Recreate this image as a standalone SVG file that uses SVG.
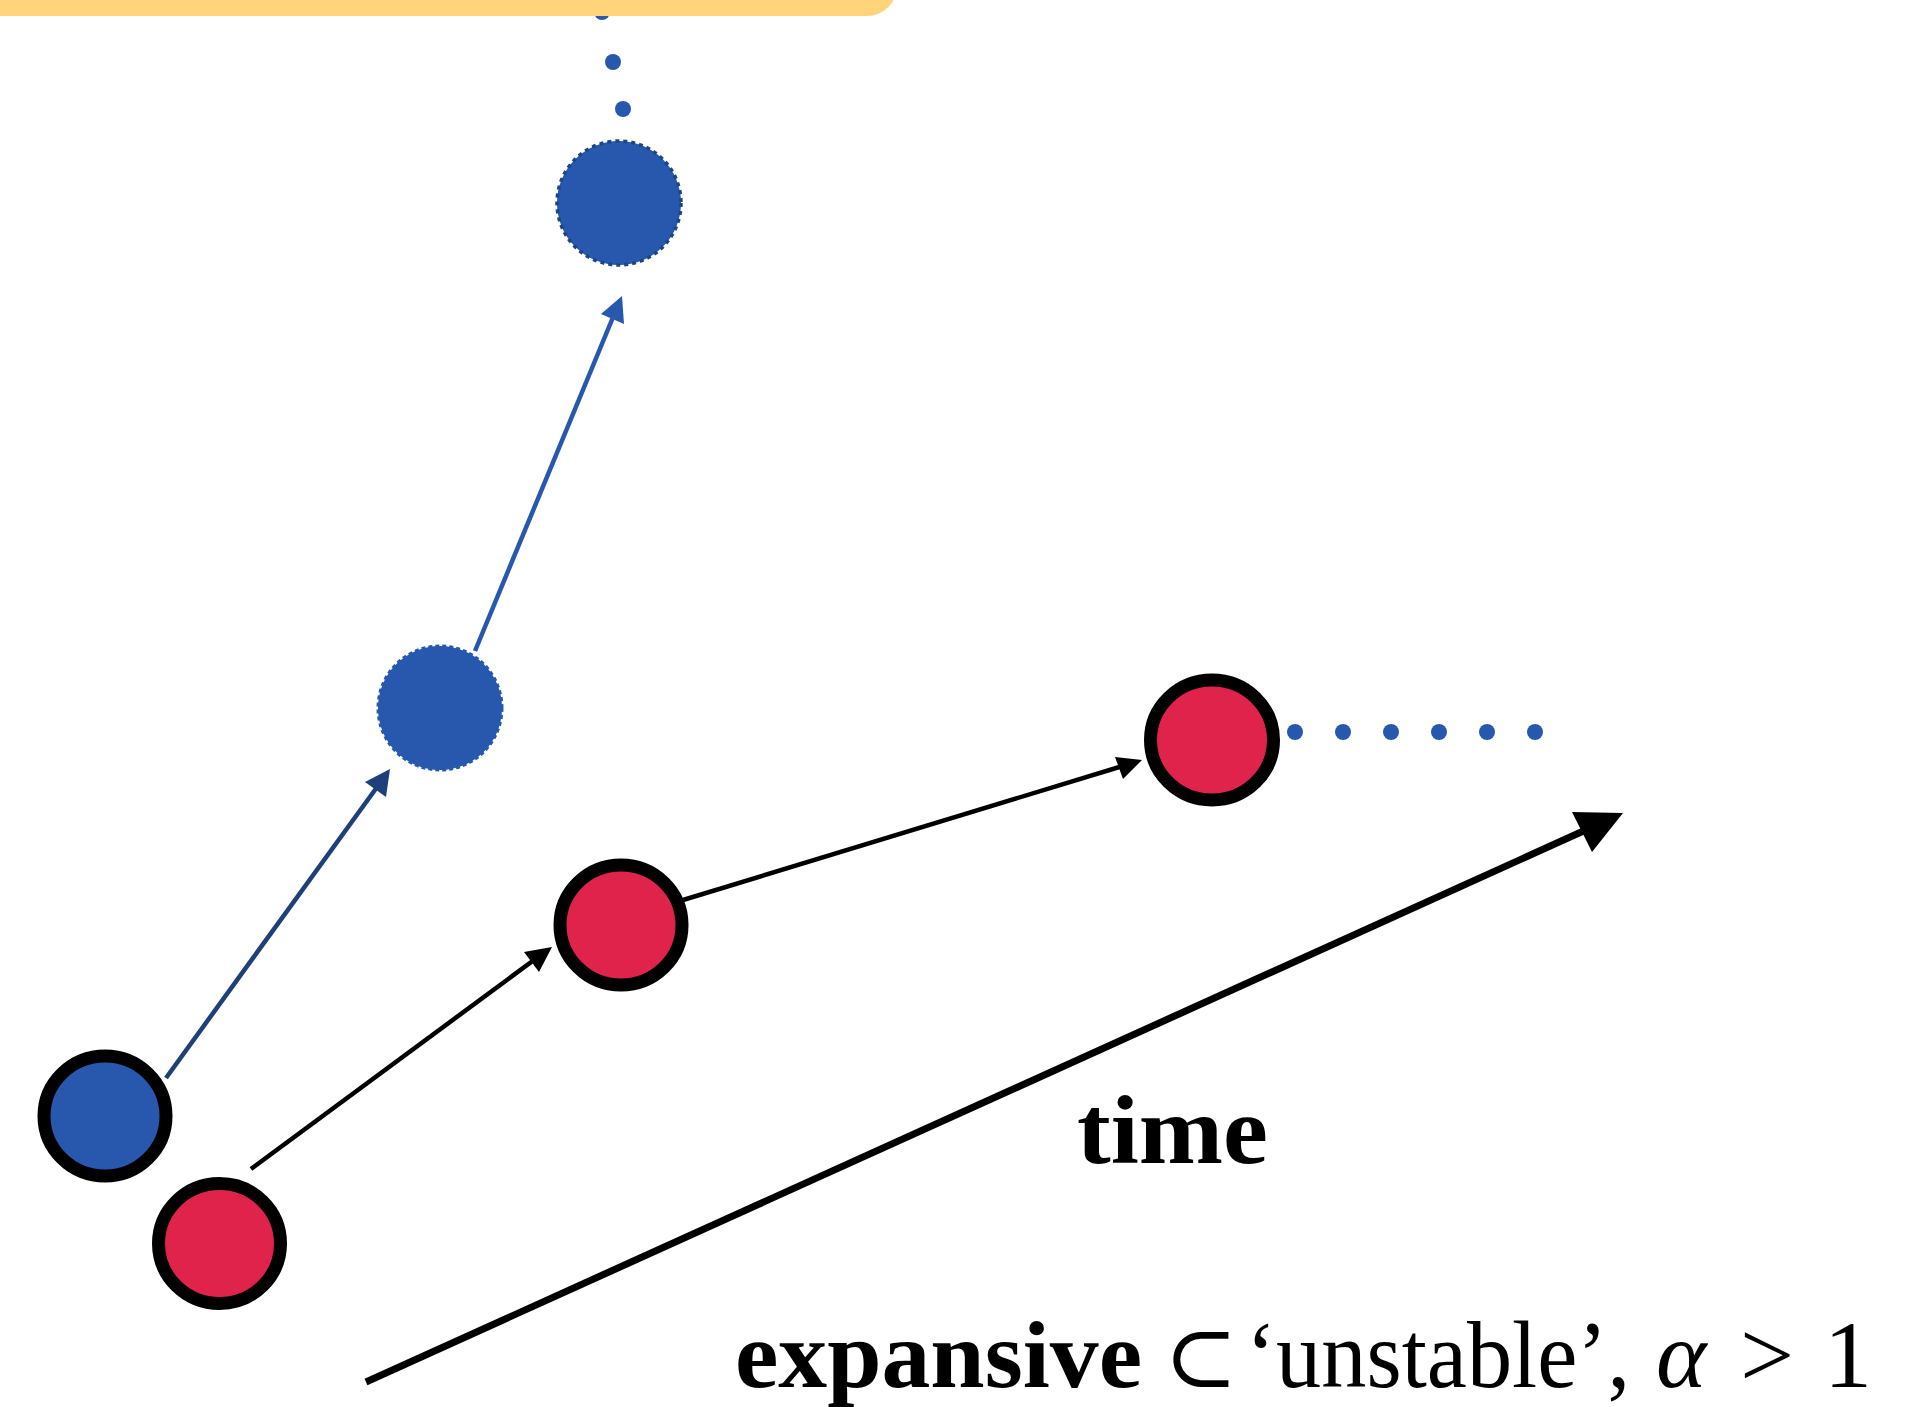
<svg xmlns="http://www.w3.org/2000/svg" width="1926" height="1407" viewBox="0 0 1926 1407">
<style>
.node{stroke:#000;stroke-width:13}
.red{fill:#E0234A}
.blue{fill:#2758AE}
.dot{fill:#2758AE}
.txt{font-family:"Liberation Serif","Times New Roman",serif;fill:#000}
</style>
<rect width="1926" height="1407" fill="#fff"/>
<g id="vdots">
<circle class="dot" cx="602" cy="12" r="8"/>
<circle class="dot" cx="613" cy="62" r="8"/>
<circle class="dot" cx="623" cy="109" r="8"/>
</g>
<rect id="banner" x="-60" y="-80" width="957" height="96" rx="30" fill="#FFD47A"/>
<g id="connectors" fill="none">
<line x1="166" y1="1078" x2="380" y2="783" stroke="#1F3F7A" stroke-width="4.5"/>
<polygon points="390,769 365,782 386,797" fill="#1F3F7A"/>
<line x1="475" y1="651" x2="616" y2="310" stroke="#2758AE" stroke-width="4.5"/>
<polygon points="622,296 601,314 624,324" fill="#2758AE"/>
<line x1="251" y1="1169" x2="538" y2="957" stroke="#000" stroke-width="4.5"/>
<polygon points="552,947 524,952 539,972" fill="#000"/>
<line x1="683" y1="900" x2="1126" y2="765" stroke="#000" stroke-width="4.5"/>
<polygon points="1142,760 1115,757 1123,779" fill="#000"/>
<line x1="366" y1="1382" x2="1590" y2="828" stroke="#000" stroke-width="7"/>
<polygon points="1623,813 1572,812 1592,852" fill="#000"/>
</g>
<g id="hdots">
<circle class="dot" cx="1295" cy="732" r="8"/>
<circle class="dot" cx="1343" cy="732" r="8"/>
<circle class="dot" cx="1391" cy="732" r="8"/>
<circle class="dot" cx="1439" cy="732" r="8"/>
<circle class="dot" cx="1487" cy="732" r="8"/>
<circle class="dot" cx="1535" cy="732" r="8"/>
</g>
<g id="blue-start"><ellipse class="node blue" cx="105" cy="1116" rx="61" ry="60"/></g>
<g id="red-start"><ellipse class="node red" cx="219.5" cy="1243.5" rx="61" ry="60"/></g>
<g id="red-mid"><ellipse class="node red" cx="621" cy="925" rx="61" ry="60"/></g>
<g id="red-end"><ellipse class="node red" cx="1212" cy="740" rx="61.5" ry="60"/></g>
<g id="blue-mid"><circle cx="440" cy="708" r="62" fill="#2758AE" stroke="#2758AE" stroke-width="3" stroke-dasharray="4 3"/></g>
<g id="blue-top"><circle cx="619" cy="203" r="62" fill="#2758AE" stroke="#1E4488" stroke-width="3.5" stroke-dasharray="4 4"/></g>
<g id="labels">
<text class="txt" x="1077" y="1163" font-size="97" font-weight="bold" textLength="191" lengthAdjust="spacingAndGlyphs">time</text>
<text class="txt" x="735" y="1387" font-size="96" font-weight="bold" textLength="407" lengthAdjust="spacingAndGlyphs">expansive</text>
<text x="1164" y="1387" font-size="88" font-family="DejaVu Serif, serif">⊂</text>
<text class="txt" x="1246" y="1387" font-size="96" textLength="384" lengthAdjust="spacingAndGlyphs">‘unstable’,</text>
<text class="txt" x="1656" y="1387" font-size="96" font-style="italic">α</text>
<text class="txt" x="1740" y="1387" font-size="96">&gt;</text>
<text class="txt" x="1824" y="1387" font-size="96">1</text>
</g>
</svg>
